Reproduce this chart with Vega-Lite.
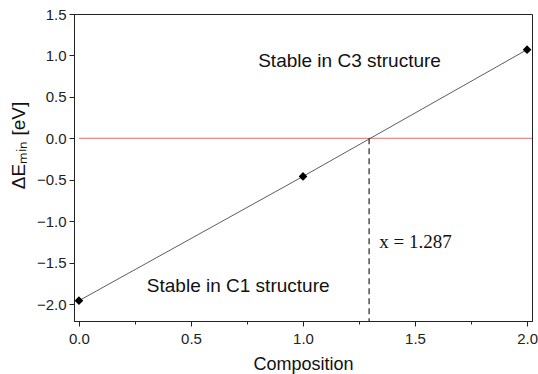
{
  "$schema": "https://vega.github.io/schema/vega-lite/v6.json",
  "autosize": "none",
  "width": 458,
  "height": 307,
  "padding": {"left": 74, "top": 14, "right": 6, "bottom": 53},
  "background": "white",
  "config": {
    "view": {"stroke": "#222", "strokeWidth": 1},
    "font": "Liberation Sans",
    "axis": {
      "domainColor": "#222",
      "tickColor": "#222",
      "labelColor": "#222",
      "titleColor": "#111",
      "labelFont": "Liberation Sans",
      "titleFont": "Liberation Sans",
      "labelFontSize": 15,
      "titleFontSize": 18,
      "titleFontWeight": "normal",
      "grid": false
    }
  },
  "datasets": {
    "pts": [
      {"composition": 0, "dE": -1.96},
      {"composition": 1, "dE": -0.46},
      {"composition": 2, "dE": 1.07}
    ],
    "labels": [
      {"composition": 0.8, "dE": 0.93, "label": "Stable in C3 structure"},
      {"composition": 0.303, "dE": -1.78, "label": "Stable in C1 structure"}
    ]
  },
  "layer": [
    {
      "data": {"values": [{"y": 0, "x1": 0, "x2": 2.022}]},
      "mark": {"type": "rule", "color": "#e07070", "strokeWidth": 1},
      "encoding": {
        "x": {"field": "x1", "type": "quantitative",
          "scale": {"domain": [-0.022, 2.022], "nice": false, "zero": false},
          "axis": {"title": "Composition", "values": [0, 0.25, 0.5, 0.75, 1, 1.25, 1.5, 1.75, 2],
            "labelExpr": "abs(datum.value*4 % 2) > 0.01 ? '' : format(datum.value, '.1f')",
            "tickSize": {"condition": {"test": "abs(datum.value*4 % 2) > 0.01", "value": 3}, "value": 5},
            "labelPadding": 5, "titlePadding": 9}},
        "x2": {"field": "x2"},
        "y": {"field": "y", "type": "quantitative",
          "scale": {"domain": [-2.205, 1.5], "nice": false, "zero": false},
          "axis": {"title": "ΔEₘᵢₙ [eV]", "titleFontSize": 19, "titleY": 131,
            "values": [-2, -1.75, -1.5, -1.25, -1, -0.75, -0.5, -0.25, 0, 0.25, 0.5, 0.75, 1, 1.25, 1.5],
            "labelExpr": "abs(datum.value*4 % 2) > 0.01 ? '' : format(datum.value, '.1f')",
            "tickSize": {"condition": {"test": "abs(datum.value*4 % 2) > 0.01", "value": 3}, "value": 5},
            "labelPadding": 3, "titlePadding": 8}}
      }
    },
    {
      "data": {"values": [{"x": 1.295, "y1": 0, "y2": -2.205}]},
      "mark": {"type": "rule", "color": "#222", "strokeWidth": 1.2, "strokeDash": [6, 4]},
      "encoding": {
        "x": {"field": "x", "type": "quantitative"},
        "y": {"field": "y1", "type": "quantitative"},
        "y2": {"field": "y2"}
      }
    },
    {
      "data": {"name": "pts"},
      "mark": {"type": "line", "color": "#333", "strokeWidth": 0.8},
      "encoding": {
        "x": {"field": "composition", "type": "quantitative"},
        "y": {"field": "dE", "type": "quantitative"}
      }
    },
    {
      "data": {"name": "pts"},
      "mark": {"type": "point", "shape": "diamond", "filled": true, "color": "#000", "size": 75, "opacity": 1},
      "encoding": {
        "x": {"field": "composition", "type": "quantitative"},
        "y": {"field": "dE", "type": "quantitative"}
      }
    },
    {
      "data": {"name": "labels"},
      "mark": {"type": "text", "align": "left", "baseline": "middle", "fontSize": 19, "font": "Liberation Sans", "color": "#111"},
      "encoding": {
        "x": {"field": "composition", "type": "quantitative"},
        "y": {"field": "dE", "type": "quantitative"},
        "text": {"field": "label"}
      }
    },
    {
      "data": {"values": [{"composition": 1.34, "dE": -1.25, "label": "x = 1.287"}]},
      "mark": {"type": "text", "align": "left", "baseline": "middle", "fontSize": 19, "font": "Liberation Serif", "color": "#111"},
      "encoding": {
        "x": {"field": "composition", "type": "quantitative"},
        "y": {"field": "dE", "type": "quantitative"},
        "text": {"field": "label"}
      }
    }
  ]
}
